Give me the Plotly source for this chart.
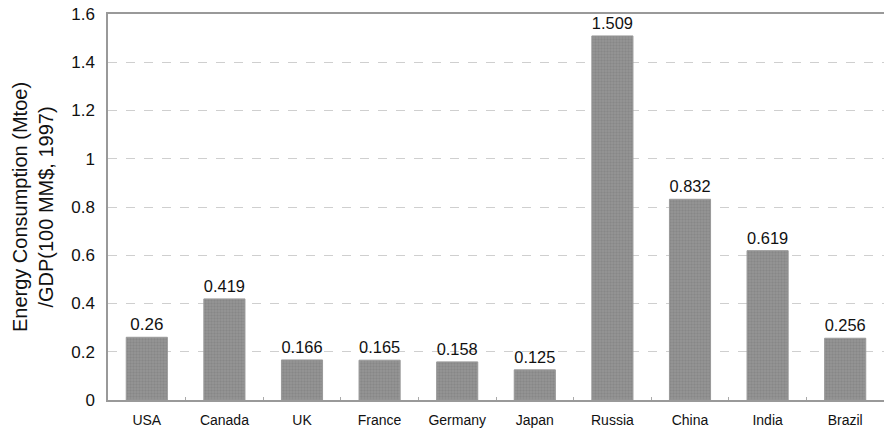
import plotly.graph_objects as go

countries = ["USA", "Canada", "UK", "France", "Germany", "Japan", "Russia", "China", "India", "Brazil"]
values = [0.26, 0.419, 0.166, 0.165, 0.158, 0.125, 1.509, 0.832, 0.619, 0.256]
labels = ["0.26", "0.419", "0.166", "0.165", "0.158", "0.125", "1.509", "0.832", "0.619", "0.256"]
y_ticks = [0, 0.2, 0.4, 0.6, 0.8, 1.0, 1.2, 1.4, 1.6]
y_ticktext = ["0", "0.2", "0.4", "0.6", "0.8", "1", "1.2", "1.4", "1.6"]

fig = go.Figure(go.Bar(
    x=countries, y=values, text=labels, textposition="outside",
    textfont=dict(size=17, color="#111111"),
    marker=dict(color="#8c8c8c", line=dict(color="#9a9a9a", width=1),
                pattern=dict(shape=".", fgcolor="#777777", bgcolor="#979797", size=3, solidity=0.5)),
    width=0.53, cliponaxis=False,
))

fig.update_layout(
    width=884, height=433,
    margin=dict(l=108, r=0, t=14, b=33),
    plot_bgcolor="white", paper_bgcolor="white",
    font=dict(family="Liberation Sans, Arial, sans-serif", color="#111111"),
    showlegend=False,
    xaxis=dict(
        showline=True, linecolor="#999999", linewidth=1.5, mirror=True,
        tickfont=dict(size=14), ticks="inside", ticklen=3, tickcolor="#aaaaaa",
        tickson="boundaries", showgrid=False, ticklabelstandoff=6,
    ),
    yaxis=dict(
        range=[0, 1.6], tickvals=y_ticks, ticktext=y_ticktext,
        tickfont=dict(size=17), showline=True, linecolor="#999999", linewidth=1.5,
        showgrid=True, gridcolor="#cfcfcf", griddash="dash", gridwidth=1,
        zeroline=False, ticks="", ticklabelstandoff=8,
        title=dict(text="Energy Consumption (Mtoe)<br>/GDP(100 MM$, 1997)", font=dict(size=20), standoff=12),
    ),
)

fig.write_html("out.html")
